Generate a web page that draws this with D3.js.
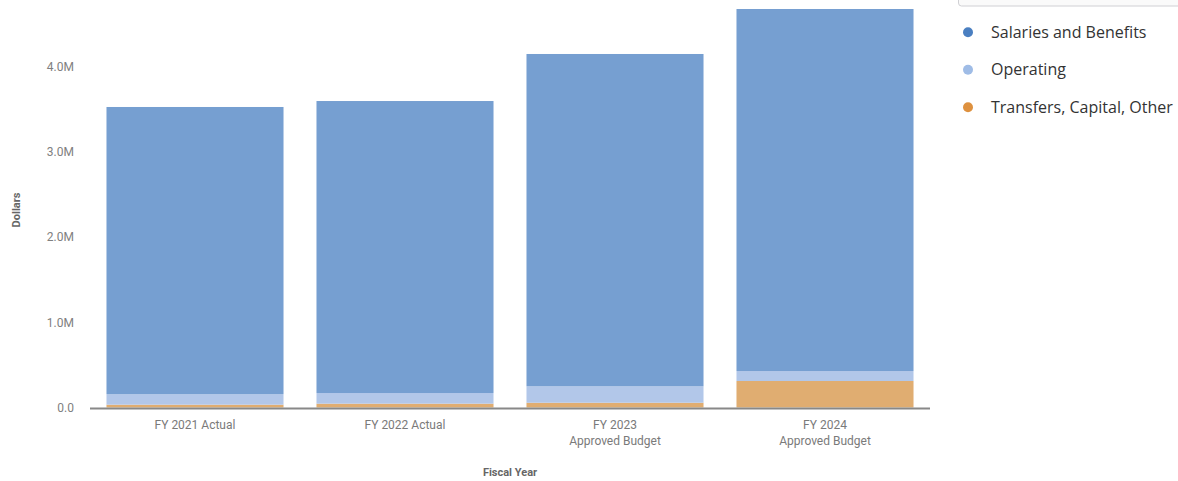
<!DOCTYPE html>
<html>
<head>
<meta charset="utf-8">
<script src="https://cdn.jsdelivr.net/npm/d3@7"></script>
<style>
  html, body { margin: 0; padding: 0; background: #fff; }
  svg { display: block; font-family: "Roboto", "Liberation Sans", sans-serif; }
</style>
</head>
<body>
<svg id="chart" width="1178" height="481"></svg>
<script>
// Fiscal years shown on the x axis (each label may wrap onto two lines)
const categories = ["FY 2021 Actual", "FY 2022 Actual", "FY 2023 Approved Budget", "FY 2024 Approved Budget"];
const categoryLines = [["FY 2021 Actual"], ["FY 2022 Actual"], ["FY 2023", "Approved Budget"], ["FY 2024", "Approved Budget"]];

// Expenditure series, in dollars
const seriesNames = ["Salaries and Benefits", "Operating", "Transfers, Capital, Other"];
const transfers = [33000, 45000, 56000, 311000];
const operating = [125000, 125000, 193000, 117000];
const salaries  = [3369000, 3427000, 3900000, 4249000];

const yTicks = [0, 1000000, 2000000, 3000000, 4000000];
const yTickLabels = ["0.0", "1.0M", "2.0M", "3.0M", "4.0M"];

const barColors = { "Salaries and Benefits": "#769fd1", "Operating": "#b2c7e9", "Transfers, Capital, Other": "#e0ad71" };
const dotColors = { "Salaries and Benefits": "#4a7fc1", "Operating": "#9fbce6", "Transfers, Capital, Other": "#de913f" };

const svg = d3.select("#chart");

const x = d3.scaleBand().domain(categories).range([90, 930]).paddingInner(0.157).paddingOuter(0.0785);
const y = d3.scaleLinear().domain([0, 4677000]).range([407.5, 9]);

const rows = categories.map((c, i) => ({
  category: c,
  "Transfers, Capital, Other": transfers[i],
  "Operating": operating[i],
  "Salaries and Benefits": salaries[i]
}));
// stack from the bottom: transfers, operating, salaries
const stack = d3.stack().keys(["Transfers, Capital, Other", "Operating", "Salaries and Benefits"]);
const layers = stack(rows);

svg.append("g").selectAll("g")
  .data(layers).join("g")
  .attr("fill", d => barColors[d.key])
  .selectAll("rect")
  .data(d => d).join("rect")
  .attr("x", d => x(d.data.category))
  .attr("width", x.bandwidth())
  .attr("y", d => y(d[1]))
  .attr("height", d => y(d[0]) - y(d[1]));

// y axis labels (no line)
const yAxis = d3.axisLeft(y).tickValues(yTicks).tickFormat((d, i) => yTickLabels[i]).tickSize(0).tickPadding(0);
const gy = svg.append("g").attr("transform", "translate(74,0)").call(yAxis);
gy.select(".domain").remove();
gy.selectAll("text").attr("fill", "#808080").style("font-size", "12px").style("font-family", "Roboto, sans-serif");

// baseline
svg.append("line")
  .attr("x1", 90).attr("x2", 930)
  .attr("y1", y(0) + 1).attr("y2", y(0) + 1)
  .attr("stroke", "#888").attr("stroke-width", 2);

// x axis labels
const xl = svg.append("g").selectAll("text")
  .data(categories).join("text")
  .attr("x", d => x(d) + x.bandwidth() / 2)
  .attr("y", 429)
  .attr("text-anchor", "middle")
  .attr("fill", "#7a7a7a")
  .style("font-size", "12px");
xl.selectAll("tspan")
  .data((d, i) => categoryLines[i]).join("tspan")
  .attr("x", function () { return d3.select(this.parentNode).attr("x"); })
  .attr("dy", (d, i) => i === 0 ? 0 : 16)
  .text(d => d);

// axis titles
svg.append("text")
  .attr("transform", "translate(20,210) rotate(-90)")
  .attr("text-anchor", "middle")
  .attr("fill", "#666")
  .style("font-size", "11px").style("font-weight", "bold")
  .text("Dollars");
svg.append("text")
  .attr("x", 510).attr("y", 476)
  .attr("text-anchor", "middle")
  .attr("fill", "#666")
  .style("font-size", "11px").style("font-weight", "bold")
  .text("Fiscal Year");

// selector box at top right (mostly scrolled out of view)
svg.append("rect")
  .attr("x", 958.5).attr("y", -30).attr("width", 240).attr("height", 36).attr("rx", 3)
  .attr("fill", "#fafafa").attr("stroke", "#d0d0d4");

// legend
const legend = svg.append("g").selectAll("g")
  .data(seriesNames).join("g")
  .attr("transform", (d, i) => `translate(968,${32.3 + i * 37.5})`);
legend.append("circle").attr("r", 5).attr("fill", d => dotColors[d]);
legend.append("text")
  .attr("x", 23).attr("dy", "0.35em")
  .attr("fill", "#333")
  .style("font-family", "'Open Sans', sans-serif")
  .style("font-size", "16px")
  .text(d => d);
</script>
</body>
</html>
